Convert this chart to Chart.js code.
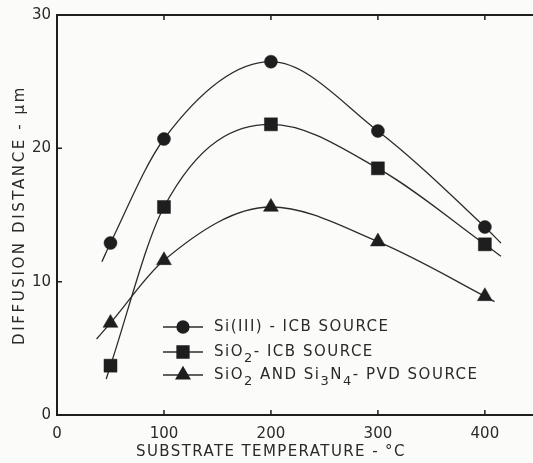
<!DOCTYPE html>
<html>
<head>
<meta charset="utf-8">
<script src="https://cdn.jsdelivr.net/npm/chart.js@4"></script>
<style>
  html, body { margin: 0; padding: 0; background: #fbfbfa; }
  #wrap { width: 533px; height: 463px; }
</style>
</head>
<body>
<div id="wrap"><canvas id="diffusionChart" width="533" height="463"></canvas></div>
<script>
// Substrate temperature (°C) at each measured point
const temperatures = [50, 100, 200, 300, 400];

// Diffusion distance (µm) for each deposition source
const siIcbSource = [12.9, 20.7, 26.5, 21.3, 14.1];
const sio2IcbSource = [3.7, 15.6, 21.8, 18.5, 12.8];
const pvdSource = [6.9, 11.6, 15.6, 13.0, 8.9];

// Where each fitted curve starts and stops past the measured points [°C, µm]
const siIcbCurveEnds = [[42, 11.5], [415, 12.9]];
const sio2IcbCurveEnds = [[46, 2.7], [415, 11.9]];
const pvdCurveEnds = [[37, 5.7], [409, 8.5]];

// Axis ticks
const xTicks = [0, 100, 200, 300, 400];
const yTicks = [0, 10, 20, 30];

// Axis titles
const xTitle = "SUBSTRATE TEMPERATURE - °C";
const yTitle = "DIFFUSION DISTANCE - μm";

// Legend text, split into [text, isSubscript] runs
const legendLabels = [
  [["Si(III) - ICB SOURCE", false]],
  [["SiO", false], ["2", true], ["- ICB SOURCE", false]],
  [["SiO", false], ["2", true], [" AND Si", false], ["3", true], ["N", false], ["4", true], ["- PVD SOURCE", false]],
];

const INK = "#1e1e1e";
const LINE = "#2c2c2c";
const FONT = "'DejaVu Sans', sans-serif";

// Measured points plus the two curve end points (drawn without a marker)
function curve(values, ends) {
  const pts = temperatures.map((t, i) => ({ x: t, y: values[i] }));
  return [{ x: ends[0][0], y: ends[0][1] }, ...pts, { x: ends[1][0], y: ends[1][1] }];
}
function markerSizes(r) {
  return [0, ...temperatures.map(() => r), 0];
}

function series(label, values, ends, style, radius) {
  return {
    label: label,
    data: curve(values, ends),
    borderColor: LINE,
    borderWidth: 1.3,
    backgroundColor: INK,
    pointBackgroundColor: INK,
    pointBorderColor: INK,
    pointBorderWidth: 0.5,
    pointStyle: style,
    pointRadius: markerSizes(radius),
    pointHoverRadius: markerSizes(radius),
    cubicInterpolationMode: "monotone",
    fill: false,
    legendRadius: radius,
  };
}

// Small ticks pointing into the plot, on the left, bottom and top edges
const inwardTicks = {
  id: "inwardTicks",
  afterDraw(chart) {
    const { ctx, chartArea } = chart;
    const xs = chart.scales.x, ys = chart.scales.y;
    ctx.save();
    ctx.strokeStyle = INK;
    ctx.lineWidth = 1.5;
    ctx.beginPath();
    xTicks.slice(1).forEach(v => {
      const px = xs.getPixelForValue(v);
      ctx.moveTo(px, chartArea.bottom);
      ctx.lineTo(px, chartArea.bottom - 5);
      ctx.moveTo(px, chartArea.top);
      ctx.lineTo(px, chartArea.top + 5);
    });
    yTicks.slice(1, -1).forEach(v => {
      const py = ys.getPixelForValue(v);
      ctx.moveTo(chartArea.left, py);
      ctx.lineTo(chartArea.left + 5, py);
    });
    ctx.stroke();
    ctx.restore();
  },
};

// Spaced-out axis titles
const axisTitles = {
  id: "axisTitles",
  afterDraw(chart) {
    const { ctx, chartArea } = chart;
    const xs = chart.scales.x;
    ctx.save();
    ctx.fillStyle = "#2a2a2a";
    ctx.font = "15px " + FONT;
    ctx.textAlign = "center";
    ctx.textBaseline = "middle";

    ctx.letterSpacing = "1.4px";
    ctx.fillText(xTitle, xs.getPixelForValue(200), 452);

    ctx.letterSpacing = "2.6px";
    ctx.translate(20, (chartArea.top + chartArea.bottom) / 2);
    ctx.rotate(-Math.PI / 2);
    ctx.fillText(yTitle, 0, 0);
    ctx.restore();
  },
};

// Legend inside the plot: line-marker-line sample then the label with subscripts
const inlineLegend = {
  id: "inlineLegend",
  afterDraw(chart) {
    const { ctx } = chart;
    const rows = [327, 352, 375];
    ctx.save();
    chart.data.datasets.forEach((ds, i) => {
      const y = rows[i];
      ctx.strokeStyle = LINE;
      ctx.lineWidth = 1.3;
      ctx.beginPath();
      ctx.moveTo(163, y);
      ctx.lineTo(203, y);
      ctx.stroke();
      ctx.fillStyle = INK;
      ctx.strokeStyle = INK;
      Chart.helpers.drawPoint(ctx, {
        pointStyle: ds.pointStyle,
        radius: ds.legendRadius * 0.92,
        rotation: 0,
        borderWidth: 0.5,
      }, 183, y);

      let x = 214;
      ctx.textBaseline = "middle";
      ctx.textAlign = "left";
      ctx.letterSpacing = "1.5px";
      legendLabels[i].forEach(([text, sub]) => {
        ctx.font = (sub ? "13px " : "15px ") + FONT;
        ctx.fillStyle = "#2a2a2a";
        ctx.fillText(text, x, sub ? y + 7 : y);
        x += ctx.measureText(text).width;
      });
    });
    ctx.restore();
  },
};

new Chart(document.getElementById("diffusionChart").getContext("2d"), {
  type: "line",
  data: {
    datasets: [
      series("Si(III) - ICB SOURCE", siIcbSource, siIcbCurveEnds, "circle", 6.5),
      series("SiO2- ICB SOURCE", sio2IcbSource, sio2IcbCurveEnds, "rect", 9.2),
      series("SiO2 AND Si3N4- PVD SOURCE", pvdSource, pvdCurveEnds, "triangle", 8.6),
    ],
  },
  options: {
    responsive: false,
    animation: false,
    devicePixelRatio: 1,
    layout: { padding: { top: 13, left: 0, right: 0, bottom: 0 } },
    plugins: {
      legend: { display: false },
      tooltip: { enabled: false },
    },
    scales: {
      x: {
        type: "linear",
        min: 0,
        max: 445,
        afterFit: s => { s.height = 48; },
        afterBuildTicks: s => { s.ticks = xTicks.map(v => ({ value: v })); },
        grid: { drawOnChartArea: false, drawTicks: false },
        border: { display: true, color: INK, width: 2 },
        ticks: {
          padding: 10,
          maxRotation: 0,
          color: "#2a2a2a",
          font: { family: FONT, size: 15 },
        },
      },
      x2: {
        type: "linear",
        position: "top",
        min: 0,
        max: 445,
        afterFit: s => { s.height = 0; },
        grid: { drawOnChartArea: false, drawTicks: false },
        border: { display: true, color: INK, width: 2 },
        ticks: { display: false },
      },
      y: {
        min: 0,
        max: 30,
        afterFit: s => { s.width = 57; },
        afterBuildTicks: s => { s.ticks = yTicks.map(v => ({ value: v })); },
        grid: { drawOnChartArea: false, drawTicks: false },
        border: { display: true, color: INK, width: 2 },
        ticks: {
          padding: 6,
          color: "#2a2a2a",
          font: { family: FONT, size: 15 },
        },
      },
    },
  },
  plugins: [inwardTicks, axisTitles, inlineLegend],
});
</script>
</body>
</html>
